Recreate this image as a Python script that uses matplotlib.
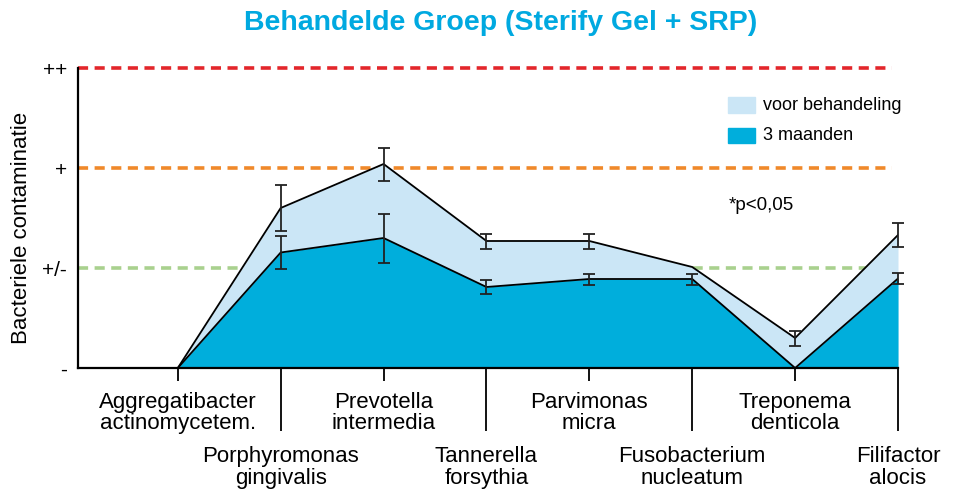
import matplotlib
matplotlib.use("Agg")
import matplotlib.pyplot as plt
from matplotlib.patches import Rectangle
import numpy as np

plt.rcParams['font.family'] = ['Liberation Sans', 'DejaVu Sans']

categories = ["Aggregatibacter\nactinomycetem.", "Porphyromonas\ngingivalis",
              "Prevotella\nintermedia", "Tannerella\nforsythia",
              "Parvimonas\nmicra", "Fusobacterium\nnucleatum",
              "Treponema\ndenticola", "Filifactor\nalocis"]
voor = [0.0, 1.60, 2.04, 1.27, 1.27, 1.01, 0.30, 1.33]
voor_err = [0.0, 0.225, 0.165, 0.075, 0.075, 0.0, 0.075, 0.12]
maanden3 = [0.0, 1.155, 1.30, 0.81, 0.89, 0.89, 0.0, 0.895]
maanden3_err = [0.0, 0.165, 0.245, 0.07, 0.055, 0.055, 0.0, 0.055]
ytick_labels = ["-", "+/-", "+", "++"]
series_names = ["voor behandeling", "3 maanden"]

light = "#CBE6F6"
dark = "#00AEDC"
title_col = "#00A9E0"

W, H = 954, 492
fig = plt.figure(figsize=(W / 100, H / 100), dpi=100)
ax = fig.add_axes([78 / W, 1 - 368 / H, (898 - 78) / W, 300 / H])

x = np.arange(len(categories))
ax.set_xlim(-0.97, 7.0)
ax.set_ylim(0, 3)

# reference dashed lines
dash = dict(lw=2.6, dashes=(2.8, 1.8), zorder=1, clip_on=False)
ax.axhline(3, xmax=0.993, color="#E3262B", **dash)
ax.axhline(2, xmax=0.993, color="#F0892A", **dash)
ax.axhline(1, xmax=0.993, color="#A9D18E", **dash)

ax.fill_between(x, 0, voor, color=light, lw=0, zorder=2)
ax.fill_between(x, 0, maanden3, color=dark, lw=0, zorder=3)
ax.plot(x, voor, color="black", lw=1.3, zorder=4)
ax.plot(x, maanden3, color="black", lw=1.3, zorder=4)

for vals, errs in ((voor, voor_err), (maanden3, maanden3_err)):
    idx = [i for i in range(len(vals)) if errs[i] > 0]
    ax.errorbar(x[idx], np.array(vals)[idx], yerr=np.array(errs)[idx], fmt="none",
                ecolor="#222222", elinewidth=1.3, capsize=4, capthick=1.3,
                zorder=5, clip_on=False)

for s in ("top", "right"):
    ax.spines[s].set_visible(False)
ax.spines["left"].set_linewidth(1.6)
ax.spines["bottom"].set_linewidth(1.6)
ax.spines["left"].set_zorder(6)
ax.spines["bottom"].set_zorder(6)

ax.set_yticks([0, 1, 2, 3])
ax.set_yticklabels(ytick_labels, fontsize=15)
ax.tick_params(axis="y", length=0, pad=8)

fs = 16
ax.set_xticks(x[0::2])
ax.set_xticklabels(categories[0::2], fontsize=fs, linespacing=1.05)
ax.set_xticks(x[1::2], minor=True)
ax.set_xticklabels(categories[1::2], minor=True, fontsize=fs, linespacing=1.05)
ax.tick_params(axis="x", which="major", length=9, width=1.3, pad=8, direction="out")
ax.tick_params(axis="x", which="minor", length=45, width=1.3, pad=11, direction="out")

fig.text(22 / W, 1 - 228 / H, "Bacteriele contaminatie", rotation=90,
         ha="center", va="center", fontsize=16)

fig.text(501 / W, 1 - 23 / H, "Behandelde Groep (Sterify Gel + SRP)",
         ha="center", va="center", fontsize=20.5, fontweight="bold", color=title_col)

# legend
fig.patches.append(Rectangle((728 / W, 1 - 112.7 / H), 27 / W, 16 / H,
                             transform=fig.transFigure, color=light, figure=fig))
fig.patches.append(Rectangle((728 / W, 1 - 143.3 / H), 27 / W, 15 / H,
                             transform=fig.transFigure, color=dark, figure=fig))
fig.text(763 / W, 1 - 105 / H, series_names[0], ha="left", va="center", fontsize=13)
fig.text(763 / W, 1 - 136 / H, series_names[1], ha="left", va="center", fontsize=13)
fig.text(729 / W, 1 - 205 / H, "*p<0,05", ha="left", va="center", fontsize=13.5)

fig.savefig("out.png", dpi=100)
